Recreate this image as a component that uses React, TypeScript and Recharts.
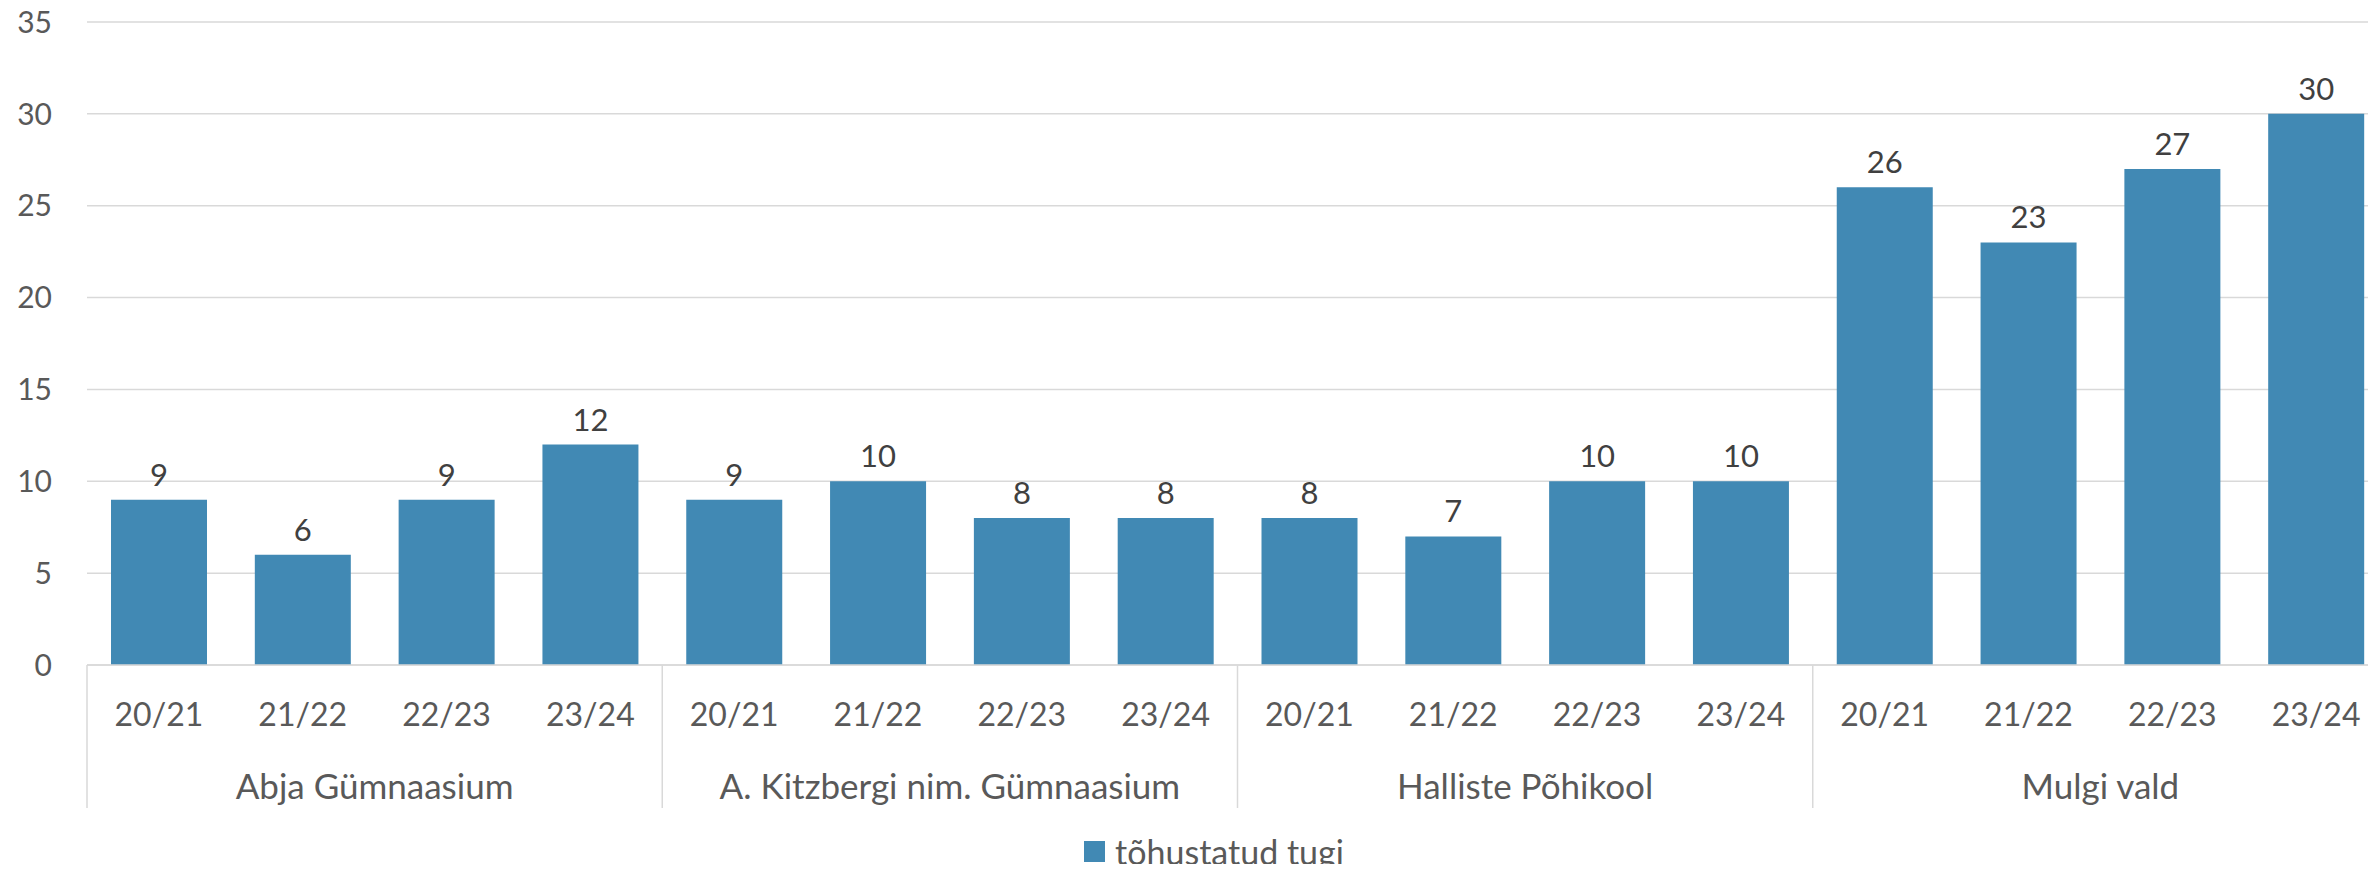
import { BarChart, Bar, XAxis, YAxis, CartesianGrid, Legend, LabelList } from 'recharts';

const years = ['20/21', '21/22', '22/23', '23/24'];
const schools = ['Abja Gümnaasium', 'A. Kitzbergi nim. Gümnaasium', 'Halliste Põhikool', 'Mulgi vald'];
const abja = [9, 6, 9, 12];
const kitzbergi = [9, 10, 8, 8];
const halliste = [8, 7, 10, 10];
const mulgi = [26, 23, 27, 30];
const yTicks = [0, 5, 10, 15, 20, 25, 30, 35];
const seriesName = 'tõhustatud tugi';

const data = [abja, kitzbergi, halliste, mulgi].flatMap((vals, g) =>
  vals.map((v, i) => ({ year: years[i], group: schools[g], value: v }))
);

const FONT = 'Lato, "Open Sans", sans-serif';
const GRID = '#D9D9D9';
const TEXT = '#595959';
const BAR = '#4189B4';

function YearTick({ x, y, payload, index }: any) {
  const half = payload?.offset ?? 72;
  return (
    <g>
      <text x={x} y={y + 48} textAnchor="middle" dominantBaseline="central" fill={TEXT} fontSize={32} fontFamily={FONT}>
        {payload.value}
      </text>
      {index % 4 === 0 && <line x1={x - half} x2={x - half} y1={y} y2={y + 143} stroke={GRID} strokeWidth={1.5} />}
      {index === data.length - 1 && <line x1={x + half} x2={x + half} y1={y} y2={y + 143} stroke={GRID} strokeWidth={1.5} />}
    </g>
  );
}

function GroupTick({ x, y, payload, index }: any) {
  if (index % 4 !== 1) return null;
  const half = payload?.offset ?? 72;
  return (
    <text x={x + half} y={y + 35} textAnchor="middle" dominantBaseline="central" fill={TEXT} fontSize={35} fontFamily={FONT}>
      {payload.value}
    </text>
  );
}

function ValueLabel({ x, y, width, value }: any) {
  return (
    <text x={x + width / 2} y={y - 26} textAnchor="middle" dominantBaseline="central" fill="#404040" fontSize={31} fontFamily={FONT}>
      {value}
    </text>
  );
}

function LegendContent() {
  return (
    <div style={{ height: 64, boxSizing: 'border-box', paddingTop: 22, paddingLeft: 40, display: 'flex', justifyContent: 'center', alignItems: 'center', fontFamily: FONT, fontSize: 34, color: TEXT }}>
      <span style={{ width: 21, height: 21, background: BAR, display: 'inline-block', marginRight: 10 }} />
      <span>{seriesName}</span>
    </div>
  );
}

export default function App() {
  return (
    <div style={{ margin: -8, width: 2376, height: 872, overflow: 'hidden', background: '#fff' }}>
      <BarChart width={2400} height={872} data={data} margin={{ top: 22, right: 12, left: 0, bottom: 0 }}>
        <CartesianGrid vertical={false} stroke={GRID} strokeWidth={1.5} />
        <XAxis
          dataKey="year"
          interval={0}
          height={85}
          tickSize={0}
          tickMargin={0}
          tickLine={false}
          axisLine={{ stroke: GRID, strokeWidth: 1.5 }}
          tick={<YearTick />}
        />
        <XAxis
          xAxisId="g"
          dataKey="group"
          interval={0}
          height={58}
          tickSize={0}
          tickMargin={0}
          tickLine={false}
          axisLine={false}
          tick={<GroupTick />}
        />
        <YAxis
          domain={[0, 35]}
          ticks={yTicks}
          width={87}
          tickSize={0}
          tickMargin={35}
          axisLine={false}
          tickLine={false}
          tick={{ fill: TEXT, fontSize: 30, fontFamily: FONT }}
        />
        <Legend verticalAlign="bottom" height={64} content={<LegendContent />} />
        <Bar dataKey="value" name={seriesName} fill={BAR} barSize={96} isAnimationActive={false}>
          <LabelList dataKey="value" content={<ValueLabel />} />
        </Bar>
      </BarChart>
    </div>
  );
}
